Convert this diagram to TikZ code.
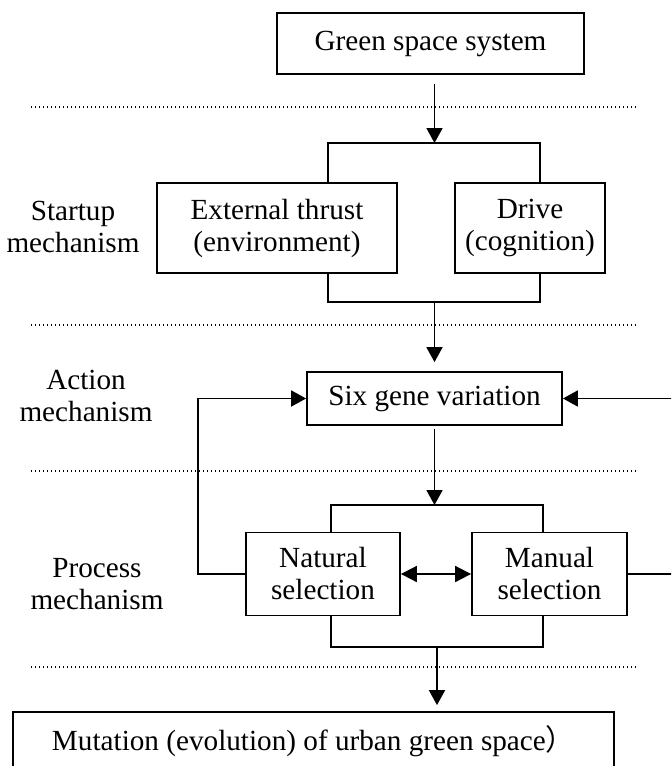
\documentclass[tikz,border=0pt]{standalone}
\usepackage{fontspec}
\setmainfont{Liberation Serif}
\newfontfamily\cjk{Noto Sans CJK SC}
\usetikzlibrary{arrows.meta}

\begin{document}
\begin{tikzpicture}[x=0.5pt,y=-0.5pt,line width=0.9pt,
	every node/.style={font=\fontsize{14.6pt}{16pt}\selectfont,align=center,inner sep=0pt},
	box/.style={draw,line width=0.9pt},
	arr/.style={-{Triangle[length=7.5pt,width=8pt]}},
	dblarr/.style={{Triangle[length=8pt,width=8pt]}-{Triangle[length=8pt,width=8pt]}},
	sepline/.style={line width=0.6pt,dash pattern=on 0.6pt off 1.4pt}]
	\clip (0,0) rectangle (671,766);

	% dotted separators
	\draw[sepline] (31,107) -- (638,107);
	\draw[sepline] (31,325) -- (638,325);
	\draw[sepline] (31,471) -- (638,471);
	\draw[sepline] (31,667) -- (638,667);

	% boxes
	\node[box,minimum width=153.5pt,minimum height=30.5pt] (gss) at (430.5,43.5) {Green space system};
	\node[box,minimum width=120pt,minimum height=45pt] (ext) at (277,228) {External thrust\\(environment)};
	\node[box,minimum width=75pt,minimum height=45pt] (drv) at (530,228) {Drive\\(cognition)};
	\node[box,minimum width=127.5pt,minimum height=26.5pt] (six) at (434.5,398.5) {Six gene variation};
	\node[box,minimum width=77pt,minimum height=41.5pt] (nat) at (323,574) {Natural\\selection};
	\node[box,minimum width=77.5pt,minimum height=41.5pt] (man) at (549.5,574) {Manual\\selection};
	\node[box,minimum width=300.5pt,minimum height=29pt] (mut) at (313.5,741) {Mutation (evolution) of urban green space{\cjk ）}};

	% stage labels
	\node (startup) at (73,227) {Startup\\mechanism};
	\node (action) at (86,396) {Action\\mechanism};
	\node (process) at (97,584) {Process\\mechanism};

	% bracket corners
	\coordinate (t1) at (434.5,143);
	\coordinate (t1l) at (328,143);
	\coordinate (t1r) at (540,143);
	\coordinate (u1) at (434.5,302);
	\coordinate (u1l) at (328,302);
	\coordinate (u1r) at (540,302);
	\coordinate (t2) at (434.5,505);
	\coordinate (t2l) at (331,505);
	\coordinate (t2r) at (543,505);
	\coordinate (u2) at (437,647);
	\coordinate (u2l) at (331,647);
	\coordinate (u2r) at (543,647);
	\coordinate (fbl) at (198,398.5);
	\coordinate (fbr) at (676,398.5);

	\draw[arr,shorten <=4.5pt] (gss.south -| t1) -- (t1);
	\draw (ext.north -| t1l) -- (t1l) -- (t1r) -- (drv.north -| t1r);
	\draw (ext.south -| u1l) -- (u1l) -- (u1r) -- (drv.south -| u1r);
	\draw[arr,shorten >=4.5pt] (u1) -- (six.north -| u1);
	\draw[arr,shorten <=1.5pt] (six.south -| t2) -- (t2);
	\draw (nat.north -| t2l) -- (t2l) -- (t2r) -- (man.north -| t2r);
	\draw (nat.south -| u2l) -- (u2l) -- (u2r) -- (man.south -| u2r);
	\draw[arr,shorten >=3pt] (u2) -- (mut.north -| u2);
	\draw[dblarr] (nat.east) -- (man.west);
	\draw[arr] (nat.west) -| (fbl) -- (six.west);
	\draw[arr] (man.east) -| (fbr) -- (six.east);
\end{tikzpicture}
\end{document}
